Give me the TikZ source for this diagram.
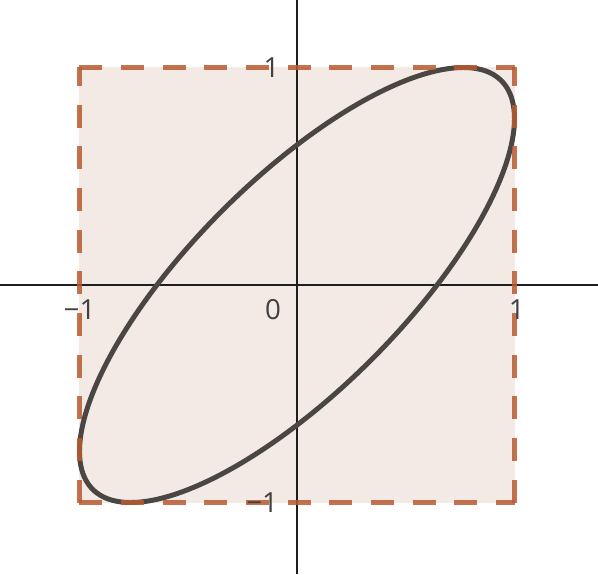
\documentclass[tikz,border=0pt]{standalone}
\usepackage{fontspec}
\setmainfont{Open Sans}
\usepackage{tikz}
\usetikzlibrary{positioning}
\definecolor{plotbrown}{HTML}{B85A30}
\definecolor{plotfill}{HTML}{F3E9E5}
\definecolor{plotcurve}{HTML}{4A4644}
\definecolor{plotaxis}{HTML}{1E1E1E}
\tikzset{
  boxfill/.style={
    fill=plotfill,
    draw=none
  },
  boxedge/.style={
    draw=plotbrown,
    draw opacity=0.85,
    line width=3pt,
    dash pattern=on 12pt off 9.8pt
  },
  axisline/.style={
    draw=plotaxis,
    line width=1.1pt
  },
  curveline/.style={
    draw=plotcurve,
    line width=2.6pt,
    line join=round
  },
  ticklabel/.style={
    font=\fontsize{14.5}{17}\selectfont,
    text=plotaxis!85,
    inner sep=0pt
  }
}

\begin{document}
\begin{tikzpicture}[x=4cm, y=4cm]
\useasboundingbox (-1.3655,-1.3287) rectangle (1.3839,1.3103);
% shaded square
\fill[boxfill] (-1,-1) rectangle (1,1);
% axes
\draw[axisline] (-1.3655,0) -- (1.3839,0);
\draw[axisline] (0,-1.3287) -- (0,1.3103);
% the curve
\draw[curveline] plot[domain=0:360, samples=240, smooth cycle, variable=\t]
  ({sin(\t)}, {sin(\t+40.1)});
% dashed border
\draw[boxedge] (-1,-1) -- (1,-1);
\draw[boxedge] (-1,1) -- (1,1);
\draw[boxedge] (-1,-1) -- (-1,1);
\draw[boxedge] (1,-1) -- (1,1);
% tick labels
\node[ticklabel] (zero) at (-0.11,-0.115) {0};
\node[ticklabel] (xminus) at (-1.0,-0.115) {−1};
\node[ticklabel] (xplus) at (1.01,-0.115) {1};
\node[ticklabel] (yplus) at (-0.117,1.0) {1};
\node[ticklabel] (yminus) at (-0.16,-1.0) {−1};
\end{tikzpicture}
\end{document}
